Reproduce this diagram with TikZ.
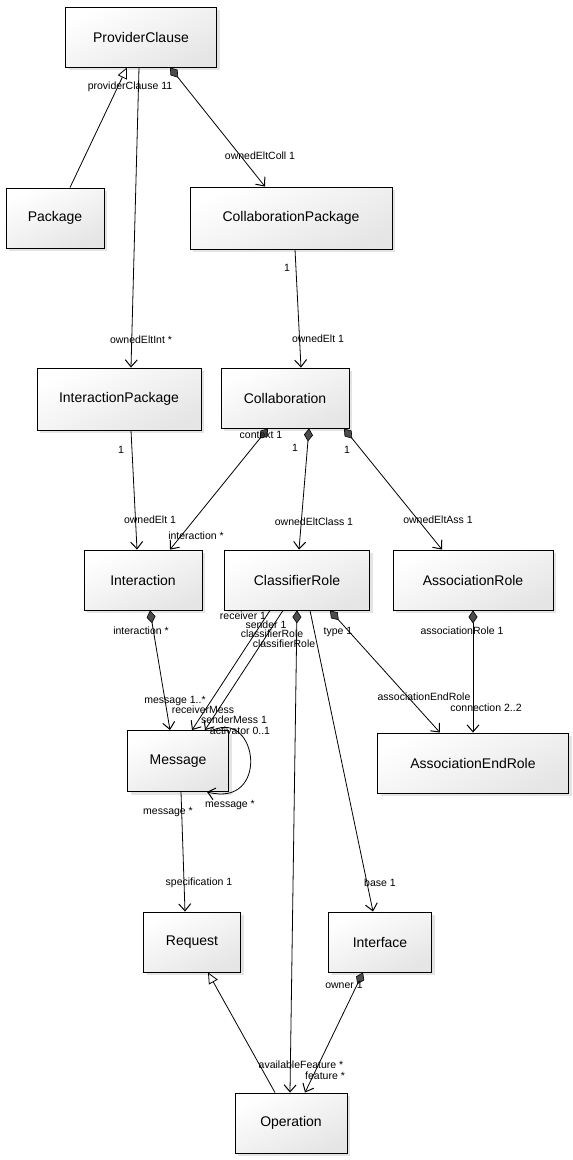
\documentclass[tikz,border=0pt]{standalone}
\usepackage{fontspec}
\setmainfont{Liberation Sans}
\usetikzlibrary{arrows.meta,shadows,calc}
\begin{document}
\begin{tikzpicture}[x=1pt,y=-1pt,
 cls/.style={draw=black, line width=0.9pt, top color=white, bottom color=black!10, shading angle=25,
   drop shadow={shadow xshift=3pt, shadow yshift=-3pt, fill=black!30, opacity=0.35},
   font=\fontsize{14}{16}\selectfont, inner sep=0pt},
 lbl/.style={font=\fontsize{10.5}{12}\selectfont, inner sep=0pt},
 barb/.tip={Straight Barb[length=7pt,width=12pt,line width=1pt]},
 assoc/.style={line width=0.8pt, -barb},
 comp/.style={line width=0.8pt, {Diamond[length=13pt,width=9pt,fill=black!70,line width=0.6pt]}-barb},
 gen/.style={line width=0.8pt, -{Triangle[length=11pt,width=10pt,fill=white,line width=0.8pt]}},
]
\useasboundingbox (0,0) rectangle (573,1160);

% classes
\node[cls, minimum width=151pt, minimum height=60pt] (pc)  at (141,37)   {ProviderClause};
\node[cls, minimum width=98pt,  minimum height=60pt] (pkg) at (55,218)   {Package};
\node[cls, minimum width=202pt, minimum height=62pt] (cp)  at (291,218)  {CollaborationPackage};
\node[cls, minimum width=164pt, minimum height=62pt] (ip)  at (119,399)  {InteractionPackage};
\node[cls, minimum width=128pt, minimum height=60pt] (col) at (285,398)  {Collaboration};
\node[cls, minimum width=118pt, minimum height=60pt] (int) at (143,580)  {Interaction};
\node[cls, minimum width=145pt, minimum height=60pt] (cr)  at (297,580)  {ClassifierRole};
\node[cls, minimum width=160pt, minimum height=60pt] (ar)  at (473,580)  {AssociationRole};
\node[cls, minimum width=101pt, minimum height=61pt] (msg) at (178,761)  {Message};
\node[cls, minimum width=191pt, minimum height=60pt] (aer) at (473,763)  {AssociationEndRole};
\node[cls, minimum width=97pt,  minimum height=60pt] (req) at (192,942)  {Request};
\node[cls, minimum width=103pt, minimum height=60pt] (ifc) at (380,942)  {Interface};
\node[cls, minimum width=112pt, minimum height=60pt] (op)  at (291,1123) {Operation};

% connectors
\draw[gen]   ([xshift=15pt]pkg.north) -- ([xshift=-14pt]pc.south);
\draw[assoc] ([xshift=-2pt]pc.south)  -- ([xshift=12pt]ip.north);
\draw[comp]  ([xshift=29pt]pc.south)  -- ([xshift=-26pt]cp.north);
\draw[assoc] ([xshift=4pt]cp.south)   -- ([xshift=16pt]col.north);
\draw[assoc] ([xshift=12pt]ip.south)  -- ([xshift=-6pt]int.north);
\draw[comp]  ([xshift=-17pt]col.south) -- ([xshift=27pt]int.north);
\draw[comp]  ([xshift=24pt]col.south) -- ([xshift=2pt]cr.north);
\draw[comp]  ([xshift=59pt]col.south) -- ([xshift=-31pt]ar.north);
\draw[comp]  ([xshift=7pt]int.south)  -- ([xshift=-8pt]msg.north);
\draw[assoc] ([xshift=-27pt]cr.south) -- ([xshift=14pt]msg.north);
\draw[assoc] ([xshift=-14pt]cr.south) -- ([xshift=27pt]msg.north);
\draw[assoc] ([xshift=35pt]msg.north) .. controls (258,710) and (270,808) .. ([xshift=29pt]msg.south);
\draw[assoc] ([xshift=3pt]msg.south)  -- ([xshift=-7pt]req.north);
\draw[comp]  (cr.south)               -- ([xshift=-1pt]op.north);
\draw[assoc] ([xshift=13pt]cr.south)  -- ([xshift=-7pt]ifc.north);
\draw[comp]  ([xshift=33pt]cr.south)  -- ([xshift=-33pt]aer.north);
\draw[comp]  (ar.south)               -- (aer.north);
\draw[comp]  ([xshift=-17pt]ifc.south) -- ([xshift=14pt]op.north);
\draw[gen]   ([xshift=-16pt]op.north) -- ([xshift=16pt]req.south);

% labels
\node[lbl] (l1)  at (130,87)   {providerClause 11};
\node[lbl] (l2)  at (260,156)  {ownedEltColl 1};
\node[lbl] (l3)  at (141,340)  {ownedEltInt *};
\node[lbl] (l4)  at (287,268)  {1};
\node[lbl] (l5)  at (318,339)  {ownedElt 1};
\node[lbl] (l6)  at (121,450)  {1};
\node[lbl] (l7)  at (150,520)  {ownedElt 1};
\node[lbl] (l8)  at (261,435)  {context 1};
\node[lbl] (l9)  at (196,536)  {interaction *};
\node[lbl] (l10) at (295,448)  {1};
\node[lbl] (l11) at (314,522)  {ownedEltClass 1};
\node[lbl] (l12) at (347,450)  {1};
\node[lbl] (l13) at (438,520)  {ownedEltAss 1};
\node[lbl] (l14) at (141,631)  {interaction *};
\node[lbl] (l15) at (243,616)  {receiver 1};
\node[lbl] (l16) at (266,625)  {sender 1};
\node[lbl] (l17) at (272,634)  {classifierRole};
\node[lbl] (l18) at (284,644)  {classifierRole};
\node[lbl] (l19) at (338,632)  {type 1};
\node[lbl] (l20) at (462,631)  {associationRole 1};
\node[lbl] (l21) at (175,701)  {message 1..*};
\node[lbl] (l22) at (203,710)  {receiverMess};
\node[lbl] (l23) at (234,720)  {senderMess 1};
\node[lbl] (l24) at (240,731)  {activator 0..1};
\node[lbl] (l25) at (230,805)  {message *};
\node[lbl] (l26) at (168,812)  {message *};
\node[lbl] (l27) at (424,697)  {associationEndRole};
\node[lbl] (l28) at (486,708)  {connection 2..2};
\node[lbl] (l29) at (199,883)  {specification 1};
\node[lbl] (l30) at (380,883)  {base 1};
\node[lbl] (l31) at (344,985)  {owner 1};
\node[lbl] (l32) at (301,1065) {availableFeature *};
\node[lbl] (l33) at (325,1076) {feature *};
\end{tikzpicture}
\end{document}
